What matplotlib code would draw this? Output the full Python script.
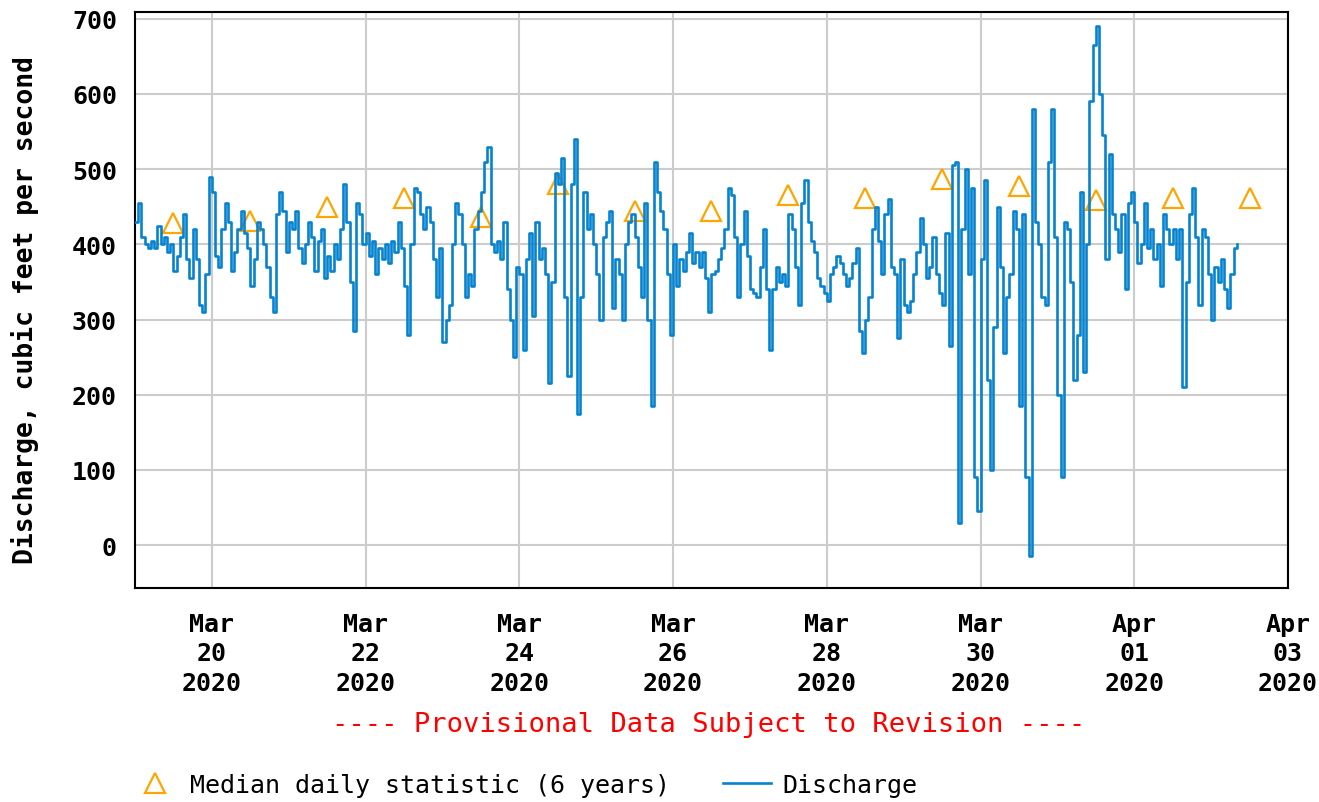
import datetime as dt
import matplotlib
matplotlib.use('Agg')
import matplotlib.pyplot as plt
from matplotlib import dates
from matplotlib.lines import Line2D
import numpy as np
import pandas as pd

# hourly discharge readings (cfs), one list per day
mar19 = [430, 455, 410, 400, 395, 405, 395, 425, 400, 410, 390, 400,
         365, 385, 410, 440, 380, 355, 420, 380, 320, 310, 360, 490]
mar20 = [470, 385, 370, 420, 455, 430, 365, 390, 420, 445, 415, 395,
         345, 380, 430, 420, 400, 370, 330, 310, 440, 470, 445, 390]
mar21 = [430, 420, 445, 395, 375, 400, 430, 410, 365, 405, 420, 355,
         385, 365, 400, 380, 420, 480, 430, 350, 285, 455, 440, 400]
mar22 = [415, 385, 405, 360, 395, 380, 400, 375, 405, 390, 430, 395,
         345, 280, 400, 475, 470, 440, 420, 450, 430, 380, 330, 395]
mar23 = [270, 300, 320, 400, 455, 440, 400, 330, 360, 345, 420, 445,
         470, 510, 530, 400, 390, 405, 380, 430, 340, 300, 250, 370]
mar24 = [360, 260, 380, 415, 305, 430, 380, 395, 360, 215, 350, 495,
         480, 515, 330, 225, 480, 540, 175, 330, 470, 420, 440, 400]
mar25 = [360, 300, 410, 430, 445, 315, 380, 360, 300, 400, 430, 440,
         410, 370, 330, 455, 300, 185, 510, 470, 445, 420, 360, 280]
mar26 = [400, 345, 380, 365, 390, 415, 375, 390, 370, 390, 355, 310,
         360, 365, 380, 395, 420, 475, 465, 410, 330, 400, 445, 385]
mar27 = [340, 335, 330, 370, 420, 340, 260, 340, 370, 350, 360, 345,
         440, 420, 370, 320, 455, 485, 430, 405, 390, 355, 345, 335]
mar28 = [325, 360, 370, 385, 375, 360, 345, 355, 375, 395, 285, 255,
         300, 330, 420, 450, 405, 360, 440, 460, 370, 360, 275, 380]
mar29 = [320, 310, 325, 360, 390, 435, 400, 355, 370, 410, 360, 335,
         320, 415, 265, 505, 510, 30, 420, 500, 360, 475, 90, 45]
mar30 = [380, 485, 220, 100, 290, 450, 370, 255, 330, 360, 445, 420,
         185, 440, 90, -15, 580, 430, 400, 330, 320, 510, 580, 410]
mar31 = [200, 90, 430, 420, 350, 220, 280, 470, 230, 400, 590, 665,
         690, 600, 545, 380, 520, 440, 420, 390, 440, 340, 455, 470]
apr01 = [430, 375, 400, 455, 395, 420, 380, 400, 345, 440, 420, 400,
         420, 380, 420, 210, 350, 440, 475, 410, 320, 420, 410, 360]
apr02 = [300, 370, 350, 380, 340, 315, 360, 395, 400]

# median daily statistic (6 years), one per day at noon
median_days = pd.date_range('2020-03-19 12:00', '2020-04-02 12:00', freq='D')
median_vals = [428, 431, 450, 462, 437, 480, 444, 444, 466, 462, 487, 477, 459, 462, 462]

discharge = mar19 + mar20 + mar21 + mar22 + mar23 + mar24 + mar25 + mar26 + \
    mar27 + mar28 + mar29 + mar30 + mar31 + apr01 + apr02
times = pd.date_range('2020-03-19 00:00', periods=len(discharge), freq='h')

blue = '#0683d0'
orange = '#ffa500'
mono = 'DejaVu Sans Mono'

fig = plt.figure(figsize=(13.19, 8.03), dpi=100)
ax = fig.add_axes([135 / 1319, 1 - 589 / 803, (1288 - 135) / 1319, (589 - 13) / 803])

ax.plot(median_days, median_vals, linestyle='', marker='^', markersize=15,
        markerfacecolor='none', markeredgecolor=orange, markeredgewidth=1.6, zorder=2)
ax.plot(times, discharge, color=blue, linewidth=1.9, drawstyle='steps-post', zorder=3)

ax.set_xlim(dt.datetime(2020, 3, 19), dt.datetime(2020, 4, 3))
ax.set_ylim(-57, 709)

ax.xaxis.set_major_locator(dates.DayLocator(bymonthday=[20, 22, 24, 26, 28, 30, 1, 3]))
ax.xaxis.set_major_formatter(dates.DateFormatter('%b\n%d\n%Y'))
ax.set_yticks(np.arange(0, 701, 100))

ax.grid(True, color='#cccccc', linewidth=1.5, zorder=0)
ax.set_axisbelow(True)
for sp in ax.spines.values():
    sp.set_linewidth(1.5)
    sp.set_color('black')

ax.tick_params(axis='both', length=0, labelsize=18)
ax.tick_params(axis='y', pad=13)
ax.tick_params(axis='x', pad=17)
for lab in ax.get_xticklabels() + ax.get_yticklabels():
    lab.set_fontfamily(mono)
    lab.set_fontweight('bold')
for lab in ax.get_xticklabels():
    lab.set_linespacing(1.3)

fig.text(25 / 1319, 1 - 310 / 803, 'Discharge, cubic feet per second', rotation=90,
         ha='center', va='center', fontsize=19, fontfamily=mono, fontweight='bold')

fig.text(709 / 1319, 1 - 725 / 803, '---- Provisional Data Subject to Revision ----',
         ha='center', va='center', fontsize=19.5, fontfamily=mono, color='red')

handles = [Line2D([], [], linestyle='', marker='^', markersize=15, markerfacecolor='none',
                  markeredgecolor=orange, markeredgewidth=1.6),
           Line2D([], [], color=blue, linewidth=1.9)]
fig.legend(handles, ['Median daily statistic (6 years)', 'Discharge'], loc='center left',
           bbox_to_anchor=(131 / 1319, 1 - 786 / 803), ncol=2, frameon=False,
           borderpad=0, borderaxespad=0, handlelength=1.9, handletextpad=0.48,
           columnspacing=2.1, prop={'family': mono, 'size': 18})

fig.savefig('out.png', dpi=100)
